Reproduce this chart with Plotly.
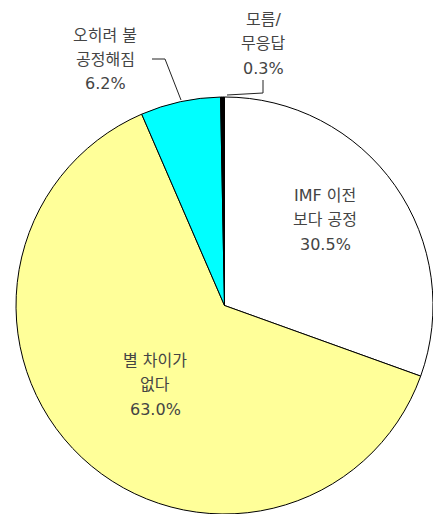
import plotly.graph_objects as go

W, H = 433, 514
ML, MT = 16, 97

# ---- data ----
categories = ["IMF 이전 보다 공정", "별 차이가 없다", "오히려 불공정해짐", "모름/무응답"]
values = [30.5, 63.0, 6.2, 0.3]
colors = ["#FFFFFF", "#FFFF99", "#00FFFF", "#000000"]
label_lines = [
    ["IMF 이전", "보다 공정"],
    ["별 차이가", "없다"],
    ["오히려 불", "공정해짐"],
    ["모름/", "무응답"],
]
pct_labels = [f"{v:.1f}%" for v in values]

# label centre positions (pixels, top-left origin) -- layout only
label_pos = [(325, 195), (155, 360), (105, 35), (263, 19)]
line_gap = 24.5

PW, PH = W - ML, H - MT

def px(x):
    return (x - ML) / PW

def py(y):
    return (H - y) / PH

fig = go.Figure(go.Pie(
    labels=categories,
    values=values,
    sort=False,
    direction="clockwise",
    rotation=0,
    marker=dict(colors=colors, line=dict(color="#000000", width=1)),
    textinfo="none",
    hoverinfo="label+percent",
    showlegend=False,
))

font = dict(family="DejaVu Sans, Noto Sans CJK KR, sans-serif", size=16, color="#444444")
annotations = []
for lines, pct, (cx, cy) in zip(label_lines, pct_labels, label_pos):
    for i, t in enumerate(lines + [pct]):
        annotations.append(dict(
            x=px(cx), y=py(cy + i * line_gap), xref="paper", yref="paper",
            text=t, showarrow=False, font=font, xanchor="center", yanchor="middle",
        ))

shapes = [
    # leader for 6.2%
    dict(type="path", xref="paper", yref="paper",
         path=f"M {px(152)},{py(59)} L {px(165)},{py(59)} L {px(181)},{py(100)}",
         line=dict(color="#222222", width=1)),
    # leader for 0.3%
    dict(type="path", xref="paper", yref="paper",
         path=f"M {px(263)},{py(80)} L {px(263)},{py(93)} L {px(227)},{py(95)}",
         line=dict(color="#222222", width=1)),
]

fig.update_layout(
    width=W, height=H,
    margin=dict(l=ML, r=0, t=MT, b=0),
    paper_bgcolor="#FFFFFF",
    plot_bgcolor="#FFFFFF",
    annotations=annotations,
    shapes=shapes,
)

fig.write_html("out.html", config={"displayModeBar": False},
               post_script="document.body.style.margin='0px';")
